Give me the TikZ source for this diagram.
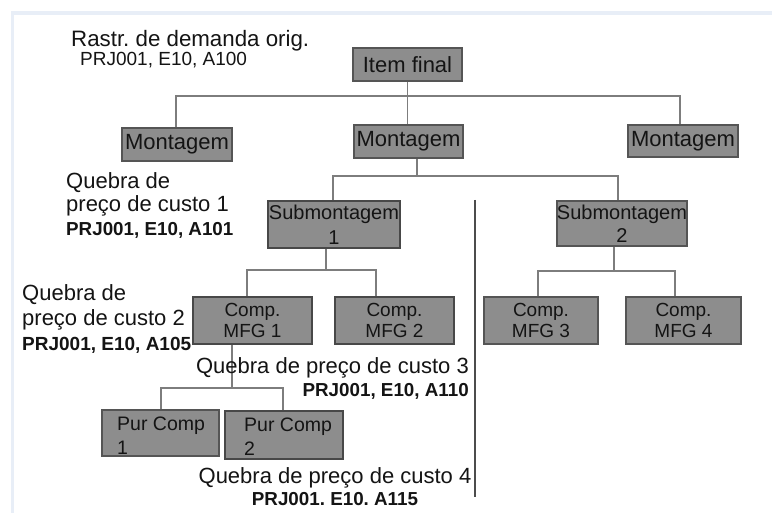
\documentclass[tikz,border=0pt]{standalone}
\usepackage{fontspec}
\setmainfont{Liberation Sans}
\frenchspacing
\definecolor{boxfill}{RGB}{141,141,141}
\definecolor{boxline}{RGB}{85,85,85}
\definecolor{connline}{RGB}{125,125,125}
\definecolor{frameblue}{RGB}{232,238,247}
\definecolor{txt}{RGB}{20,20,20}
\tikzset{
  box/.style={draw=boxline, fill=boxfill, line width=1.2pt, inner sep=0pt, text=txt, align=center},
  thickbox/.style={box, line width=2.6pt, draw=boxline!85!black},
  conn/.style={draw=connline, line width=1.4pt},
  sepline/.style={draw=black!70, line width=2pt},
  lbl/.style={inner sep=0pt, text=txt},
}
\newcommand{\fs}[2]{\fontsize{#1}{#2}\selectfont}
\begin{document}
\begin{tikzpicture}[x=1pt,y=-1pt]
\useasboundingbox (0,0) rectangle (772,513);
\fill[white] (0,0) rectangle (772,513);
\fill[frameblue] (11,11) rectangle (772,15);
\fill[frameblue] (11,11) rectangle (14,513);

% boxes
\node[box, minimum width=109pt, minimum height=33pt, font=\fs{22}{26}] (item) at (407.5,64.5) {Item final};
\node[box, minimum width=110pt, minimum height=33pt, font=\fs{22}{26}] (m1) at (177,144.5) {Montagem};
\node[box, minimum width=109pt, minimum height=33pt, font=\fs{22}{26}] (m2) at (408.5,141.5) {Montagem};
\node[box, minimum width=110pt, minimum height=32pt, font=\fs{22}{26}] (m3) at (683,141) {Montagem};
\node[thickbox, minimum width=132pt, minimum height=47pt, font=\fs{20}{25}] (s1) at (334,224.5) {Submontagem\\1};
\node[box, minimum width=126pt, minimum height=45pt, font=\fs{20}{23}] (s2) at (622,223.5) {Submontagem\\2};
\node[thickbox, minimum width=119pt, minimum height=47pt, font=\fs{19}{21}] (c1) at (252.5,320.5) {Comp.\\MFG 1};
\node[thickbox, minimum width=119pt, minimum height=47pt, font=\fs{19}{21}] (c2) at (394.5,320.5) {Comp.\\MFG 2};
\node[box, minimum width=114pt, minimum height=47pt, font=\fs{19}{21}] (c3) at (541,320.5) {Comp.\\MFG 3};
\node[box, minimum width=115pt, minimum height=47pt, font=\fs{19}{21}] (c4) at (683.5,320.5) {Comp.\\MFG 4};
\node[box, minimum width=117pt, minimum height=46pt] (p1) at (160.5,433) {};
\node[thickbox, minimum width=118pt, minimum height=48pt] (p2) at (284,435) {};
\node[lbl, anchor=north west, align=left, font=\fs{19.5}{24}] (p1t) at (117,417) {Pur Comp\\1};
\node[lbl, anchor=north west, align=left, font=\fs{19.5}{24}] (p2t) at (244,418) {Pur Comp\\2};

% connectors
\coordinate (j1) at (407.5,96);
\draw[conn] (item.south) -- (item.south |- m2.north);
\draw[conn] ([xshift=-1pt]m1.north) |- (j1) -| ([xshift=-3pt]m3.north);

\coordinate (j2) at (417,176);
\draw[conn] ([xshift=8.5pt]m2.south) -- (j2);
\draw[conn] ([xshift=-1pt]s1.north) |- (j2) -| ([xshift=-4pt]s2.north);

\coordinate (j3) at (326,270);
\draw[conn] ([xshift=-8pt]s1.south) -- (j3);
\draw[conn] ([xshift=-5.5pt]c1.north) |- (j3) -| ([xshift=-18.5pt]c2.north);

\coordinate (j4) at (614,271);
\draw[conn] ([xshift=-8pt]s2.south) -- (j4);
\draw[conn] ([xshift=-3pt]c3.north) |- (j4) -| ([xshift=-8.5pt]c4.north);

\coordinate (j5) at (232,388);
\draw[conn] ([xshift=-20.5pt]c1.south) -- (j5);
\draw[conn] ([xshift=0.5pt]p1.north) |- (j5) -| ([xshift=-1pt]p2.north);

% separator
\coordinate (v1) at (475,200);
\coordinate (v2) at (475,497);
\draw[sepline] (v1) -- (v2);

% labels
\node[lbl, anchor=north west, font=\fs{22.3}{24}] (rastr) at (71,30) {Rastr. de demanda orig.};
\node[lbl, anchor=north west, font=\fs{19}{22}] (orig) at (80,52) {PRJ001, E10, A100};

\node[lbl, anchor=north west, align=left, font=\fs{22}{23.5}] (lab1) at (66,172)
  {Quebra de\\preço de custo 1\\{\bfseries\fs{18.8}{23.5}PRJ001, E10, A101}};
\node[lbl, anchor=north west, align=left, font=\fs{22}{25}] (lab2) at (22,284)
  {Quebra de\\preço de custo 2\\{\bfseries\fs{19}{24}PRJ001, E10, A105}};
\node[lbl, anchor=north east, align=right, font=\fs{22}{23}] (lab3) at (469,357)
  {Quebra de preço de custo 3\\{\bfseries\fs{18.8}{23}PRJ001, E10, A110}};
\node[lbl, anchor=north, align=center, font=\fs{22}{22}] (lab4) at (335,467)
  {Quebra de preço de custo 4\\{\bfseries\fs{18.8}{22}PRJ001. E10. A115}};
\end{tikzpicture}
\end{document}
